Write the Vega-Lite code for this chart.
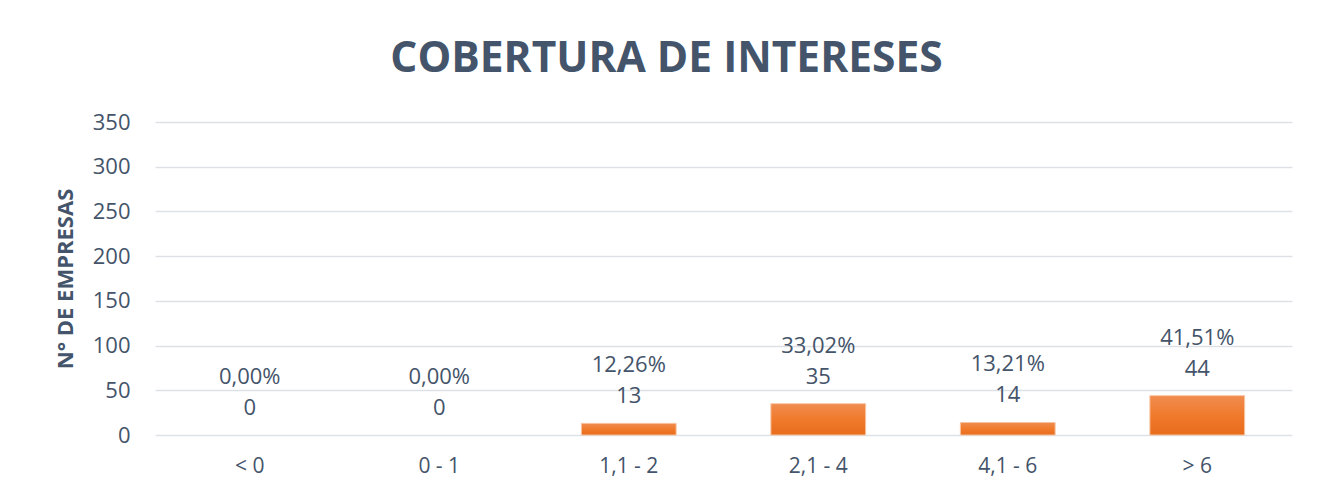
{
  "$schema": "https://vega.github.io/schema/vega-lite/v6.json",
  "autosize": {"type": "none"},
  "width": 1137,
  "height": 313,
  "padding": {"left": 155, "top": 122, "right": 32, "bottom": 60},
  "background": "white",
  "title": {
    "text": "COBERTURA DE INTERESES",
    "anchor": "middle",
    "frame": "group",
    "dx": -57,
    "offset": 31,
    "font": "Open Sans",
    "fontSize": 42.5,
    "fontWeight": "bold",
    "color": "#44546A"
  },
  "data": {
    "values": [
      {"rango": "< 0", "empresas": 0, "pct": "0,00%"},
      {"rango": "0 - 1", "empresas": 0, "pct": "0,00%"},
      {"rango": "1,1 - 2", "empresas": 13, "pct": "12,26%"},
      {"rango": "2,1 - 4", "empresas": 35, "pct": "33,02%"},
      {"rango": "4,1 - 6", "empresas": 14, "pct": "13,21%"},
      {"rango": "> 6", "empresas": 44, "pct": "41,51%"}
    ]
  },
  "encoding": {
    "x": {
      "field": "rango",
      "type": "nominal",
      "sort": ["< 0", "0 - 1", "1,1 - 2", "2,1 - 4", "4,1 - 6", "> 6"],
      "scale": {"paddingInner": 0.5, "paddingOuter": 0.25},
      "axis": {
        "title": null,
        "labelAngle": 0,
        "domain": false,
        "ticks": false,
        "labelPadding": 20,
        "labelFont": "Open Sans",
        "labelFontSize": 21,
        "labelColor": "#44546A"
      }
    },
    "y": {
      "field": "empresas",
      "type": "quantitative",
      "scale": {"domain": [0, 350]},
      "axis": {
        "title": "N° DE EMPRESAS",
        "values": [0, 50, 100, 150, 200, 250, 300, 350],
        "domain": false,
        "ticks": false,
        "labelPadding": 25,
        "labelFont": "Open Sans",
        "labelFontSize": 22,
        "labelColor": "#44546A",
        "titleFont": "Open Sans",
        "titleFontSize": 22,
        "titleFontWeight": "bold",
        "titleColor": "#44546A",
        "titlePadding": 15,
        "gridColor": "#DDE1E6",
        "gridWidth": 1.5
      }
    }
  },
  "layer": [
    {
      "transform": [{"filter": "datum.empresas > 0"}],
      "mark": {
        "type": "bar",
        "stroke": "#F7C4A0",
        "strokeWidth": 1,
        "color": {
          "gradient": "linear",
          "x1": 0, "y1": 0, "x2": 0, "y2": 1,
          "stops": [
            {"offset": 0, "color": "#F08C50"},
            {"offset": 0.5, "color": "#F07A2C"},
            {"offset": 1, "color": "#E86C1C"}
          ]
        }
      }
    },
    {
      "mark": {"type": "text", "baseline": "middle", "dy": -27, "font": "Open Sans", "fontSize": 22, "color": "#44546A"},
      "encoding": {"text": {"field": "empresas", "type": "quantitative"}}
    },
    {
      "mark": {"type": "text", "baseline": "middle", "dy": -58, "font": "Open Sans", "fontSize": 22, "color": "#44546A"},
      "encoding": {"text": {"field": "pct", "type": "nominal"}}
    }
  ],
  "config": {"view": {"stroke": null}}
}
